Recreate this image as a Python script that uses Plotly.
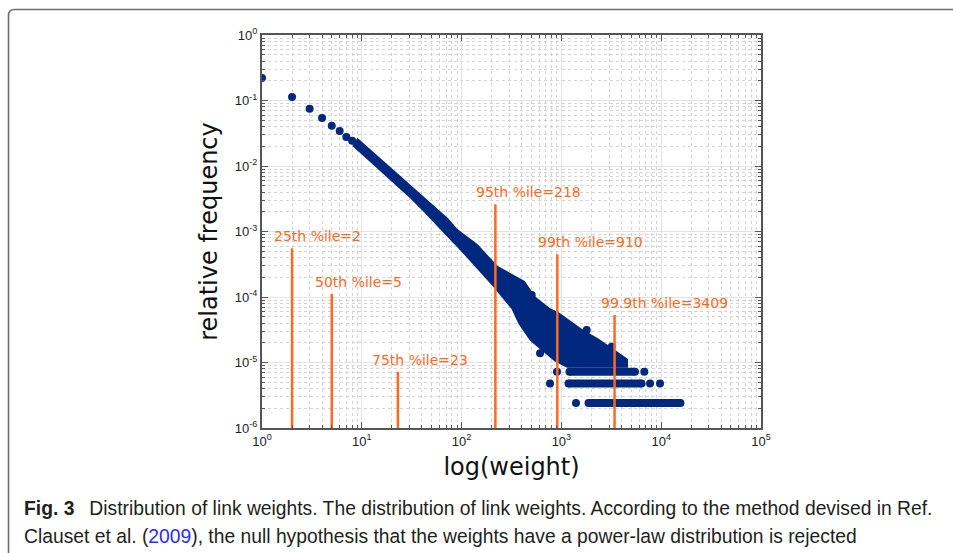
import numpy as np
import plotly.graph_objects as go

# ---------------- data ----------------
# individual small-weight points
dot_w = [1, 2, 3, 4, 5, 6, 7, 8]
dot_f = [0.221, 0.113, 0.075, 0.054, 0.0412, 0.0342, 0.0277, 0.0243]

# dense band: weight, upper and lower envelope of the point centres
band_w = [8.55, 9.98, 14.63, 21.5, 31.6, 46.4, 68.2, 85.9, 100.2, 136.3, 216, 343, 403,
          519, 718, 903, 1164, 1536, 2275, 2931, 3865, 4238]
band_hi = [0.0241, 0.01963, 0.01180, 0.00711, 0.00430, 0.00248, 0.001462, 9.72e-4,
           8.10e-4, 5.74e-4, 2.67e-4, 1.77e-4, 1.58e-4, 9.0e-5, 6.11e-5, 5.13e-5,
           3.80e-5, 2.87e-5, 2.02e-5, 1.50e-5, 1.17e-5, 1.05e-5]
band_lo = [0.02245, 0.01767, 0.01025, 0.00627, 0.00370, 0.002056, 0.001143, 7.60e-4,
           6.01e-4, 3.77e-4, 1.65e-4, 7.03e-5, 4.15e-5, 2.37e-5, 1.55e-5, 1.17e-5,
           9.6e-6, 9.6e-6, 9.6e-6, 9.6e-6, 9.6e-6, 9.6e-6]

# isolated outliers and row-end points
out_w = [504, 611, 1792, 3190, 903, 6775, 769, 7730, 9730, 1400]
out_f = [1.07e-4, 1.38e-5, 3.13e-5, 1.74e-5, 7.2e-6, 7.2e-6, 4.8e-6, 4.8e-6, 4.8e-6, 2.4e-6]

# low-count rows (count = 3, 2, 1)
row_f = [7.2e-6, 4.8e-6, 2.4e-6]
row_start = [1205, 1178, 1870]
row_end = [5460, 6350, 15600]

# percentiles
pct_labels = ['25th %ile=2', '50th %ile=5', '75th %ile=23', '95th %ile=218',
              '99th %ile=910', '99.9th %ile=3409']
pct_w = [2, 5, 23, 218, 910, 3409]
pct_top = [5.54e-4, 1.11e-4, 7.24e-6, 2.6e-3, 4.49e-4, 5.31e-5]

x_tickvals = [1, 10, 100, 1000, 10000, 100000]
x_ticktext = ['10<sup>0</sup>', '10<sup>1</sup>', '10<sup>2</sup>', '10<sup>3</sup>',
              '10<sup>4</sup>', '10<sup>5</sup>']
y_tickvals = [1e-6, 1e-5, 1e-4, 1e-3, 1e-2, 1e-1, 1]
y_ticktext = ['10<sup>-6</sup>', '10<sup>-5</sup>', '10<sup>-4</sup>', '10<sup>-3</sup>',
              '10<sup>-2</sup>', '10<sup>-1</sup>', '10<sup>0</sup>']

# ---------------- styling ----------------
NAVY = '#00287f'
ORANGE = '#ff6a1f'
MS = 8

fig = go.Figure()

# dense band as a filled region, outlined with marker-wide stroke
fig.add_trace(go.Scatter(
    x=band_w + band_w[::-1], y=band_hi + band_lo[::-1],
    mode='lines', fill='toself', fillcolor=NAVY,
    line=dict(color=NAVY, width=MS), hoverinfo='skip', showlegend=False))

# rows
for f, a, b in zip(row_f, row_start, row_end):
    fig.add_trace(go.Scatter(x=[a, b], y=[f, f], mode='lines+markers',
                             line=dict(color=NAVY, width=MS),
                             marker=dict(color=NAVY, size=MS),
                             showlegend=False))

# points
fig.add_trace(go.Scatter(x=dot_w + out_w, y=dot_f + out_f, mode='markers',
                         marker=dict(color=NAVY, size=MS, line=dict(width=0)),
                         showlegend=False))

# percentile lines
for w, t in zip(pct_w, pct_top):
    fig.add_trace(go.Scatter(x=[w, w], y=[1e-6, t], mode='lines',
                             line=dict(color=ORANGE, width=2.5), showlegend=False))

label_shift = [-20, -19, -28, -21, -21, -16]
for lab, w, t, s in zip(pct_labels, pct_w, pct_top, label_shift):
    fig.add_annotation(x=np.log10(w), y=np.log10(t), text=lab, showarrow=False,
                       xanchor='left', yanchor='bottom', xshift=s, yshift=2,
                       font=dict(family='DejaVu Sans', size=14, color=ORANGE))

L, R, T, B = 262, 761, 35, 428
W, H = 953, 553
pw, ph = R - L, B - T


def px(x):
    return (x - L) / pw


def py(y):
    return (B - y) / ph


# outer figure frame (rounded top-left corner)
path = (f"M {px(8.5)},{py(560)} L {px(8.5)},{py(15.5)} "
        f"Q {px(8.5)},{py(9.5)} {px(14.5)},{py(9.5)} L {px(960)},{py(9.5)}")
fig.add_shape(type='path', path=path, xref='paper', yref='paper',
              line=dict(color='#6e6e6e', width=1.6))

# caption
cap_font = dict(family='Liberation Sans', size=19.3, color='#231f20')
fig.add_annotation(x=px(22), y=py(508), xref='paper', yref='paper', xanchor='left',
                   yanchor='middle', showarrow=False, font=cap_font,
                   text='<b>Fig. 3</b>\u2002 Distribution of link weights. The distribution of link weights. '
                        'According to the method devised in Ref.')
fig.add_annotation(x=px(22), y=py(536), xref='paper', yref='paper', xanchor='left',
                   yanchor='middle', showarrow=False, font=cap_font,
                   text="Clauset et al. (<span style='color:#2b2bff'>2009</span>), the null hypothesis "
                        "that the weights have a power-law distribution is rejected")

axis_common = dict(
    type='log', showline=True, linecolor='#555555', linewidth=2, mirror='ticks',
    ticks='inside', ticklen=6, tickcolor='#555555', tickwidth=1,
    showgrid=True, gridcolor='#e3e3e3', gridwidth=1, zeroline=False,
    tickfont=dict(family='Liberation Sans', size=13, color='#222222'),
    minor=dict(dtick='D1', showgrid=True, gridcolor='#d4d4d4', griddash='dot',
               gridwidth=1, ticks='inside', ticklen=3, tickcolor='#555555'),
)

fig.update_xaxes(**axis_common, range=[0, 5], tickvals=x_tickvals, ticktext=x_ticktext,
                 title=dict(text='log(weight)', standoff=11,
                            font=dict(family='DejaVu Sans', size=24, color='#111111')))
fig.update_yaxes(**axis_common, range=[-6, 0], tickvals=y_tickvals, ticktext=y_ticktext,
                 title=dict(text='relative frequency', standoff=10,
                            font=dict(family='DejaVu Sans', size=24, color='#111111')))

fig.update_layout(width=W, height=H, margin=dict(l=L, r=W - R, t=T, b=H - B, pad=0),
                  paper_bgcolor='white', plot_bgcolor='white', showlegend=False)

fig.write_html('out.html')
